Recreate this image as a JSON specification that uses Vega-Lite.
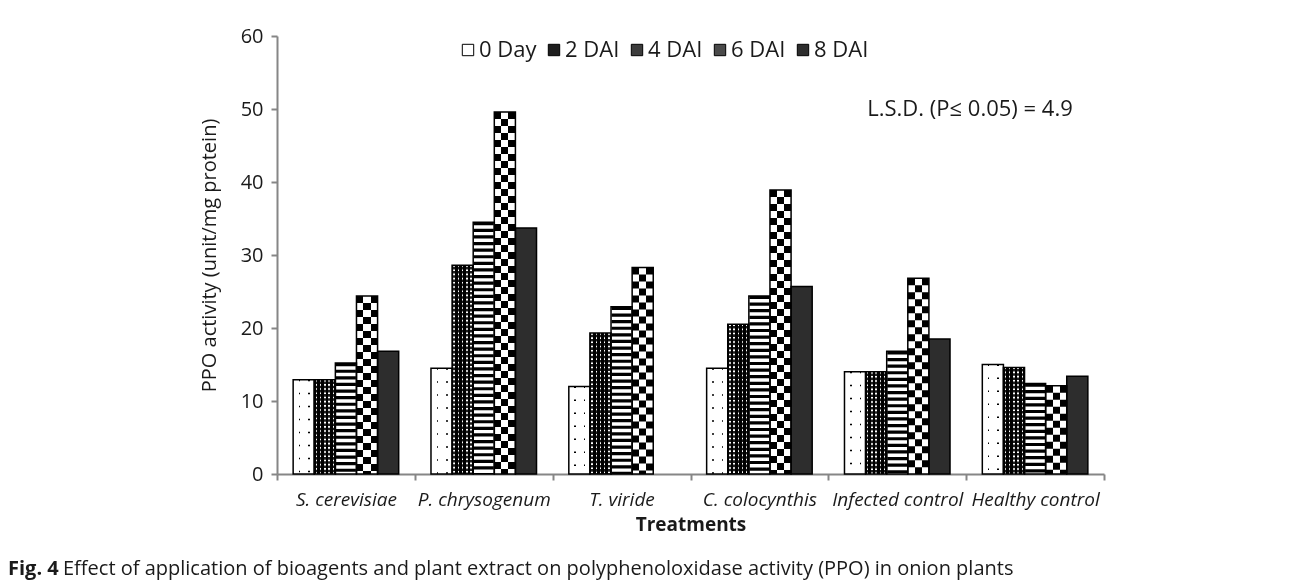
{
  "$schema": "https://vega.github.io/schema/vega-lite/v6.json",
  "autosize": {"type": "pad"},
  "padding": {"left": 8, "top": 26, "right": 10, "bottom": 6},
  "background": "white",
  "config": {
    "font": "Open Sans",
    "view": {"stroke": null},
    "concat": {"spacing": 0},
    "axis": {"grid": false, "domainColor": "#868686", "domainWidth": 2, "tickColor": "#868686", "tickWidth": 2, "tickSize": 6, "labelColor": "#1a1a1a", "titleColor": "#1a1a1a", "labelFont": "Open Sans", "titleFont": "Open Sans"}
  },
  "title": {
    "text": "Fig. 4",
    "orient": "bottom",
    "anchor": "start",
    "frame": "group",
    "dx": -269,
    "offset": -20,
    "font": "Open Sans",
    "fontSize": 20,
    "fontWeight": "bold",
    "color": "#1a1a1a"
  },
  "datasets": {
    "ppo": [
      {"treatment": "S. cerevisiae", "day": "0 Day", "value": 12.9},
      {"treatment": "S. cerevisiae", "day": "2 DAI", "value": 12.9},
      {"treatment": "S. cerevisiae", "day": "4 DAI", "value": 15.2},
      {"treatment": "S. cerevisiae", "day": "6 DAI", "value": 24.4},
      {"treatment": "S. cerevisiae", "day": "8 DAI", "value": 16.8},
      {"treatment": "P. chrysogenum", "day": "0 Day", "value": 14.5},
      {"treatment": "P. chrysogenum", "day": "2 DAI", "value": 28.6},
      {"treatment": "P. chrysogenum", "day": "4 DAI", "value": 34.5},
      {"treatment": "P. chrysogenum", "day": "6 DAI", "value": 49.6},
      {"treatment": "P. chrysogenum", "day": "8 DAI", "value": 33.7},
      {"treatment": "T. viride", "day": "0 Day", "value": 12.0},
      {"treatment": "T. viride", "day": "2 DAI", "value": 19.3},
      {"treatment": "T. viride", "day": "4 DAI", "value": 22.9},
      {"treatment": "T. viride", "day": "6 DAI", "value": 28.3},
      {"treatment": "C. colocynthis", "day": "0 Day", "value": 14.5},
      {"treatment": "C. colocynthis", "day": "2 DAI", "value": 20.5},
      {"treatment": "C. colocynthis", "day": "4 DAI", "value": 24.4},
      {"treatment": "C. colocynthis", "day": "6 DAI", "value": 38.9},
      {"treatment": "C. colocynthis", "day": "8 DAI", "value": 25.7},
      {"treatment": "Infected control", "day": "0 Day", "value": 14.0},
      {"treatment": "Infected control", "day": "2 DAI", "value": 14.0},
      {"treatment": "Infected control", "day": "4 DAI", "value": 16.8},
      {"treatment": "Infected control", "day": "6 DAI", "value": 26.8},
      {"treatment": "Infected control", "day": "8 DAI", "value": 18.5},
      {"treatment": "Healthy control", "day": "0 Day", "value": 15.0},
      {"treatment": "Healthy control", "day": "2 DAI", "value": 14.6},
      {"treatment": "Healthy control", "day": "4 DAI", "value": 12.4},
      {"treatment": "Healthy control", "day": "6 DAI", "value": 12.1},
      {"treatment": "Healthy control", "day": "8 DAI", "value": 13.4}
    ],
    "note": [
      {"treatment": "Infected control", "value": 50, "label": "L.S.D. (P≤ 0.05)  = 4.9"}
    ]
  },
  "vconcat": [
    {
      "width": 827,
      "height": 438,
      "title": {
        "text": "Effect of application of bioagents and plant extract on polyphenoloxidase activity (PPO) in onion plants",
        "orient": "bottom",
        "anchor": "start",
        "frame": "group",
        "dx": -214,
        "offset": 25,
        "font": "Open Sans",
        "fontSize": 20,
        "fontWeight": "normal",
        "color": "#1a1a1a"
      },
      "data": {"name": "ppo"},
      "encoding": {
        "x": {
          "field": "treatment",
          "type": "nominal",
          "sort": ["S. cerevisiae", "P. chrysogenum", "T. viride", "C. colocynthis", "Infected control", "Healthy control"],
          "scale": {"domain": ["S. cerevisiae", "P. chrysogenum", "T. viride", "C. colocynthis", "Infected control", "Healthy control"], "paddingInner": 0, "paddingOuter": 0},
          "title": "Treatments",
          "axis": {"labelAngle": 0, "tickBand": "extent", "labelFontSize": 19, "labelFontStyle": "italic", "labelPadding": 10, "titleFontSize": 19, "titleFontWeight": "bold", "titlePadding": 6}
        },
        "y": {
          "field": "value",
          "type": "quantitative",
          "scale": {"domain": [0, 60], "nice": false},
          "title": "PPO activity (unit/mg protein)",
          "axis": {"values": [0, 10, 20, 30, 40, 50, 60], "labelFontSize": 20, "labelPadding": 8, "titleFontSize": 20, "titleFontWeight": "normal", "titlePadding": 21}
        }
      },
      "layer": [
        {
          "mark": {"type": "bar"},
          "encoding": {
            "xOffset": {"field": "day", "type": "nominal", "scale": {"domain": ["0 Day", "2 DAI", "4 DAI", "6 DAI", "8 DAI"], "paddingInner": 0, "paddingOuter": 0.765}},
            "fill": {
              "field": "day",
              "type": "nominal",
              "scale": {"domain": ["0 Day", "2 DAI", "4 DAI", "6 DAI", "8 DAI"], "range": ["#ffffff", "#1e1e1e", "#3c3c3c", "#4a4a4a", "#2d2d2d"]},
              "legend": {"orient": "none", "legendX": 180, "legendY": 3, "direction": "horizontal", "title": null, "symbolType": "square", "symbolSize": 130, "symbolStrokeColor": "#000000", "symbolStrokeWidth": 1, "symbolOpacity": 1, "labelFontSize": 22, "labelFont": "Open Sans", "labelColor": "#1a1a1a", "labelOffset": 0, "columnPadding": 6}
            }
          }
        },
        {
          "transform": [{"filter": "datum.day === '4 DAI' || datum.day === '6 DAI'"}],
          "mark": {"type": "bar", "fill": "#ffffff"},
          "encoding": {
            "xOffset": {"field": "day", "type": "nominal", "scale": {"domain": ["0 Day", "2 DAI", "4 DAI", "6 DAI", "8 DAI"], "paddingInner": 0, "paddingOuter": 0.765}}
          }
        },
        {
          "transform": [{"filter": "datum.day === '0 Day'"}],
          "mark": {"type": "rule", "color": "#000000", "strokeWidth": 19, "strokeCap": "butt", "strokeDash": [1.5, 11.5]},
          "encoding": {
            "xOffset": {"field": "day", "type": "nominal", "scale": {"domain": ["0 Day", "2 DAI", "4 DAI", "6 DAI", "8 DAI"], "paddingInner": 0, "paddingOuter": 0.765}},
            "y2": {"datum": 0}
          }
        },
        {
          "transform": [{"filter": "datum.day === '2 DAI'"}],
          "mark": {"type": "rule", "color": "#ffffff", "strokeWidth": 19, "strokeCap": "butt", "strokeDash": [1.6, 2.6]},
          "encoding": {
            "xOffset": {"field": "day", "type": "nominal", "scale": {"domain": ["0 Day", "2 DAI", "4 DAI", "6 DAI", "8 DAI"], "paddingInner": 0, "paddingOuter": 0.765}},
            "y2": {"datum": 0}
          }
        },
        {
          "transform": [{"filter": "datum.day === '4 DAI'"}],
          "mark": {"type": "rule", "color": "#000000", "strokeWidth": 20, "strokeCap": "butt", "strokeDash": [3.2, 3.4]},
          "encoding": {
            "xOffset": {"field": "day", "type": "nominal", "scale": {"domain": ["0 Day", "2 DAI", "4 DAI", "6 DAI", "8 DAI"], "paddingInner": 0, "paddingOuter": 0.765}},
            "y2": {"datum": 0}
          }
        },
        {
          "transform": [{"filter": "datum.day === '6 DAI'"}],
          "mark": {"type": "rule", "color": "#000000", "strokeWidth": 21, "strokeCap": "butt", "strokeDash": [7, 7]},
          "encoding": {
            "xOffset": {"field": "day", "type": "nominal", "scale": {"domain": ["0 Day", "2 DAI", "4 DAI", "6 DAI", "8 DAI"], "paddingInner": 0, "paddingOuter": 0.765}},
            "y2": {"datum": 0}
          }
        },
        {
          "transform": [{"filter": "datum.day === '0 Day'"}],
          "mark": {"type": "bar", "fill": {"gradient": "linear", "x1": 0, "y1": 0, "x2": 1, "y2": 0, "stops": [
            {"offset": 0, "color": "#ffffff"}, {"offset": 0.265, "color": "#ffffff"},
            {"offset": 0.265, "color": "rgba(255,255,255,0)"}, {"offset": 0.335, "color": "rgba(255,255,255,0)"},
            {"offset": 0.335, "color": "#ffffff"}, {"offset": 0.715, "color": "#ffffff"},
            {"offset": 0.715, "color": "rgba(255,255,255,0)"}, {"offset": 0.785, "color": "rgba(255,255,255,0)"},
            {"offset": 0.785, "color": "#ffffff"}, {"offset": 1, "color": "#ffffff"}
          ]}},
          "encoding": {
            "xOffset": {"field": "day", "type": "nominal", "scale": {"domain": ["0 Day", "2 DAI", "4 DAI", "6 DAI", "8 DAI"], "paddingInner": 0, "paddingOuter": 0.765}}
          }
        },
        {
          "transform": [{"filter": "datum.day === '2 DAI'"}],
          "mark": {"type": "bar", "fill": {"gradient": "linear", "x1": 0, "y1": 0, "x2": 1, "y2": 0, "stops": [
            {"offset": 0, "color": "#000000"}, {"offset": 0.065, "color": "#000000"},
            {"offset": 0.065, "color": "rgba(0,0,0,0)"}, {"offset": 0.135, "color": "rgba(0,0,0,0)"},
            {"offset": 0.135, "color": "#000000"}, {"offset": 0.265, "color": "#000000"},
            {"offset": 0.265, "color": "rgba(0,0,0,0)"}, {"offset": 0.335, "color": "rgba(0,0,0,0)"},
            {"offset": 0.335, "color": "#000000"}, {"offset": 0.465, "color": "#000000"},
            {"offset": 0.465, "color": "rgba(0,0,0,0)"}, {"offset": 0.535, "color": "rgba(0,0,0,0)"},
            {"offset": 0.535, "color": "#000000"}, {"offset": 0.665, "color": "#000000"},
            {"offset": 0.665, "color": "rgba(0,0,0,0)"}, {"offset": 0.735, "color": "rgba(0,0,0,0)"},
            {"offset": 0.735, "color": "#000000"}, {"offset": 0.865, "color": "#000000"},
            {"offset": 0.865, "color": "rgba(0,0,0,0)"}, {"offset": 0.935, "color": "rgba(0,0,0,0)"},
            {"offset": 0.935, "color": "#000000"}, {"offset": 1, "color": "#000000"}
          ]}},
          "encoding": {
            "xOffset": {"field": "day", "type": "nominal", "scale": {"domain": ["0 Day", "2 DAI", "4 DAI", "6 DAI", "8 DAI"], "paddingInner": 0, "paddingOuter": 0.765}}
          }
        },
        {
          "transform": [{"filter": "datum.day === '6 DAI'"}],
          "mark": {"type": "bar", "blend": "difference", "fill": {"gradient": "linear", "x1": 0, "y1": 0, "x2": 1, "y2": 0, "stops": [
            {"offset": 0, "color": "#000000"}, {"offset": 0.333, "color": "#000000"},
            {"offset": 0.333, "color": "#ffffff"}, {"offset": 0.667, "color": "#ffffff"},
            {"offset": 0.667, "color": "#000000"}, {"offset": 1, "color": "#000000"}
          ]}},
          "encoding": {
            "xOffset": {"field": "day", "type": "nominal", "scale": {"domain": ["0 Day", "2 DAI", "4 DAI", "6 DAI", "8 DAI"], "paddingInner": 0, "paddingOuter": 0.765}}
          }
        },
        {
          "mark": {"type": "bar", "fill": "transparent", "stroke": "#000000", "strokeWidth": 1.5},
          "encoding": {
            "xOffset": {"field": "day", "type": "nominal", "scale": {"domain": ["0 Day", "2 DAI", "4 DAI", "6 DAI", "8 DAI"], "paddingInner": 0, "paddingOuter": 0.765}}
          }
        },
        {
          "data": {"name": "note"},
          "mark": {"type": "text", "align": "left", "baseline": "middle", "dx": -30, "fontSize": 22, "font": "Open Sans", "color": "#1a1a1a"},
          "encoding": {
            "text": {"field": "label"}
          }
        }
      ]
    }
  ]
}
